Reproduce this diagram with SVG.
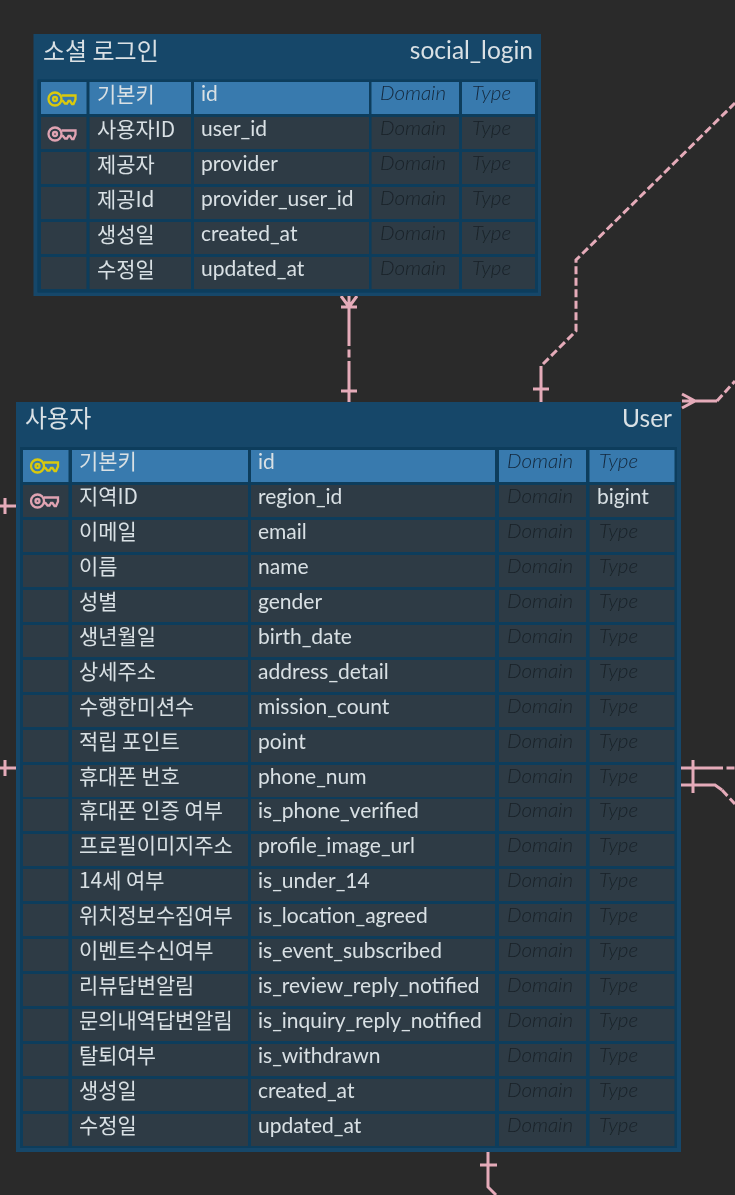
<svg xmlns="http://www.w3.org/2000/svg" width="735" height="1195" viewBox="0 0 735 1195">
<style>
text{font-family:"Lato","Noto Sans CJK KR",sans-serif;fill:#d9e0e4;font-size:21px}
.kr{font-family:"Noto Sans CJK KR","Noto Sans",sans-serif;font-size:20.900px}
.title{font-size:24.500px}
.title.kr{font-size:24px}
.ph{font-style:italic;font-weight:300;fill:#1b2228;font-size:20.500px}
.sel .ph{fill:#14263a}
.card{fill:#134669}
.inner{fill:#103c5c}
.r{fill:#2d3b45}
.s{fill:#377aae}
.line{fill:none;stroke:#e5abb9;stroke-width:3}
.dash{stroke-dasharray:8 3.500}
.key{fill:none;stroke-width:2.300}
.pk{stroke:#d9c90f}
.fk{stroke:#e0a3b2}
</style>
<defs>
<filter id="soft" x="0" y="0" width="100%" height="100%"><feGaussianBlur stdDeviation="0.450"/></filter>
<g id="k">
<circle cx="7.500" cy="8" r="6.500"/>
<circle cx="7.500" cy="8" r="2"/>
<path d="M14 4.500H28V8.500L26 13H24.500L22.500 10H21L19.500 12.500H17.500L15.500 10H14"/>
</g>
<g id="sc"><rect x="41" width="45.500" height="32"/><rect x="89.500" width="101.500" height="32"/><rect x="194" width="175" height="32"/><rect x="371.500" width="87.500" height="32"/><rect x="462" width="73" height="32"/></g>
<g id="uc"><rect x="23" width="45.500" height="32"/><rect x="72" width="176" height="32"/><rect x="251" width="244" height="32"/><rect x="499" width="87" height="32"/><rect x="589.500" width="85" height="32"/></g>
</defs>
<rect width="735" height="1195" fill="#2a2a2a"/>
<g filter="url(#soft)">
<g id="connectors">
<path class="line" d="M349 296V338M349 362V402M341 307H357M341 391H357M341 296L349 307L357 296"/>
<path class="line dash" d="M349 338V362"/>
<path class="line" d="M541 402V366M533 389H549"/>
<path class="line dash" d="M543 364L576 331V260L735 103"/>
<path class="line" d="M682 394L695 401L682 408M682 401H717"/>
<path class="line dash" d="M717 401L735 381"/>
<path class="line" d="M0 506H16M5 498V514"/>
<path class="line" d="M0 768H16M5 760V776"/>
<path class="line" d="M681 768H715M693 760V793M681 785H715L722 790"/>
<path class="line dash" d="M715 768H735M722 790L735 804"/>
<path class="line" d="M488 1152V1187L496 1195M480 1165H497"/>
</g>
<g id="social_login">
<rect class="card" x="33.500" y="34" width="507.500" height="262"/>
<rect class="inner" x="37.500" y="79.500" width="500.500" height="213"/>
<text class="title kr" x="43" y="60">소셜 로그인</text>
<text class="title" x="533" y="59" text-anchor="end">social_login</text>
<g class="sel"><use href="#sc" y="82" class="s"/><use href="#k" x="47.500" y="91" class="key pk"/><text class="kr" x="97" y="101.500">기본키</text><text x="201" y="101">id</text><text class="ph" x="380" y="100">Domain</text><text class="ph" x="472" y="100">Type</text></g>
<g><use href="#sc" y="117" class="r"/><use href="#k" x="47.500" y="126" class="key fk"/><text class="kr" x="97" y="136.500">사용자ID</text><text x="201" y="136">user_id</text><text class="ph" x="380" y="135">Domain</text><text class="ph" x="472" y="135">Type</text></g>
<g><use href="#sc" y="152" class="r"/><text class="kr" x="97" y="171.500">제공자</text><text x="201" y="171">provider</text><text class="ph" x="380" y="170">Domain</text><text class="ph" x="472" y="170">Type</text></g>
<g><use href="#sc" y="187" class="r"/><text class="kr" x="97" y="206.500">제공Id</text><text x="201" y="206">provider_user_id</text><text class="ph" x="380" y="205">Domain</text><text class="ph" x="472" y="205">Type</text></g>
<g><use href="#sc" y="222" class="r"/><text class="kr" x="97" y="241.500">생성일</text><text x="201" y="241">created_at</text><text class="ph" x="380" y="240">Domain</text><text class="ph" x="472" y="240">Type</text></g>
<g><use href="#sc" y="257" class="r"/><text class="kr" x="97" y="276.500">수정일</text><text x="201" y="276">updated_at</text><text class="ph" x="380" y="275">Domain</text><text class="ph" x="472" y="275">Type</text></g>
</g>
<g id="user">
<rect class="card" x="16" y="402" width="665" height="750"/>
<rect class="inner" x="20" y="447" width="657" height="701"/>
<text class="title kr" x="25" y="427">사용자</text>
<text class="title" x="672" y="427" text-anchor="end">User</text>
<g class="sel"><use href="#uc" y="450" class="s"/><use href="#k" x="30" y="458" class="key pk"/><text class="kr" x="79" y="469">기본키</text><text x="258" y="468.500">id</text><text class="ph" x="507" y="468">Domain</text><text class="ph" x="599" y="468">Type</text></g>
<g><use href="#uc" y="485" class="r"/><use href="#k" x="30" y="493" class="key fk"/><text class="kr" x="79" y="504">지역ID</text><text x="258" y="503.500">region_id</text><text class="ph" x="507" y="503">Domain</text><text x="597" y="503.500">bigint</text></g>
<g><use href="#uc" y="520" class="r"/><text class="kr" x="79" y="539">이메일</text><text x="258" y="538.500">email</text><text class="ph" x="507" y="538">Domain</text><text class="ph" x="599" y="538">Type</text></g>
<g><use href="#uc" y="555" class="r"/><text class="kr" x="79" y="574">이름</text><text x="258" y="573.500">name</text><text class="ph" x="507" y="573">Domain</text><text class="ph" x="599" y="573">Type</text></g>
<g><use href="#uc" y="590" class="r"/><text class="kr" x="79" y="609">성별</text><text x="258" y="608.500">gender</text><text class="ph" x="507" y="608">Domain</text><text class="ph" x="599" y="608">Type</text></g>
<g><use href="#uc" y="625" class="r"/><text class="kr" x="79" y="644">생년월일</text><text x="258" y="643.500">birth_date</text><text class="ph" x="507" y="643">Domain</text><text class="ph" x="599" y="643">Type</text></g>
<g><use href="#uc" y="660" class="r"/><text class="kr" x="79" y="679">상세주소</text><text x="258" y="678.500">address_detail</text><text class="ph" x="507" y="678">Domain</text><text class="ph" x="599" y="678">Type</text></g>
<g><use href="#uc" y="695" class="r"/><text class="kr" x="79" y="714">수행한미션수</text><text x="258" y="713.500">mission_count</text><text class="ph" x="507" y="713">Domain</text><text class="ph" x="599" y="713">Type</text></g>
<g><use href="#uc" y="730" class="r"/><text class="kr" x="79" y="749">적립 포인트</text><text x="258" y="748.500">point</text><text class="ph" x="507" y="748">Domain</text><text class="ph" x="599" y="748">Type</text></g>
<g><use href="#uc" y="765" class="r"/><text class="kr" x="79" y="784">휴대폰 번호</text><text x="258" y="783.500">phone_num</text><text class="ph" x="507" y="783">Domain</text><text class="ph" x="599" y="783">Type</text></g>
<g><use href="#uc" y="799" class="r"/><text class="kr" x="79" y="818">휴대폰 인증 여부</text><text x="258" y="817.500">is_phone_verified</text><text class="ph" x="507" y="817">Domain</text><text class="ph" x="599" y="817">Type</text></g>
<g><use href="#uc" y="834" class="r"/><text class="kr" x="79" y="853">프로필이미지주소</text><text x="258" y="852.500">profile_image_url</text><text class="ph" x="507" y="852">Domain</text><text class="ph" x="599" y="852">Type</text></g>
<g><use href="#uc" y="869" class="r"/><text class="kr" x="79" y="888">14세 여부</text><text x="258" y="887.500">is_under_14</text><text class="ph" x="507" y="887">Domain</text><text class="ph" x="599" y="887">Type</text></g>
<g><use href="#uc" y="904" class="r"/><text class="kr" x="79" y="923">위치정보수집여부</text><text x="258" y="922.500">is_location_agreed</text><text class="ph" x="507" y="922">Domain</text><text class="ph" x="599" y="922">Type</text></g>
<g><use href="#uc" y="939" class="r"/><text class="kr" x="79" y="958">이벤트수신여부</text><text x="258" y="957.500">is_event_subscribed</text><text class="ph" x="507" y="957">Domain</text><text class="ph" x="599" y="957">Type</text></g>
<g><use href="#uc" y="974" class="r"/><text class="kr" x="79" y="993">리뷰답변알림</text><text x="258" y="992.500">is_review_reply_notified</text><text class="ph" x="507" y="992">Domain</text><text class="ph" x="599" y="992">Type</text></g>
<g><use href="#uc" y="1009" class="r"/><text class="kr" x="79" y="1028">문의내역답변알림</text><text x="258" y="1027.500">is_inquiry_reply_notified</text><text class="ph" x="507" y="1027">Domain</text><text class="ph" x="599" y="1027">Type</text></g>
<g><use href="#uc" y="1044" class="r"/><text class="kr" x="79" y="1063">탈퇴여부</text><text x="258" y="1062.500">is_withdrawn</text><text class="ph" x="507" y="1062">Domain</text><text class="ph" x="599" y="1062">Type</text></g>
<g><use href="#uc" y="1079" class="r"/><text class="kr" x="79" y="1098">생성일</text><text x="258" y="1097.500">created_at</text><text class="ph" x="507" y="1097">Domain</text><text class="ph" x="599" y="1097">Type</text></g>
<g><use href="#uc" y="1114" class="r"/><text class="kr" x="79" y="1133">수정일</text><text x="258" y="1132.500">updated_at</text><text class="ph" x="507" y="1132">Domain</text><text class="ph" x="599" y="1132">Type</text></g>
</g>
</g>
</svg>
